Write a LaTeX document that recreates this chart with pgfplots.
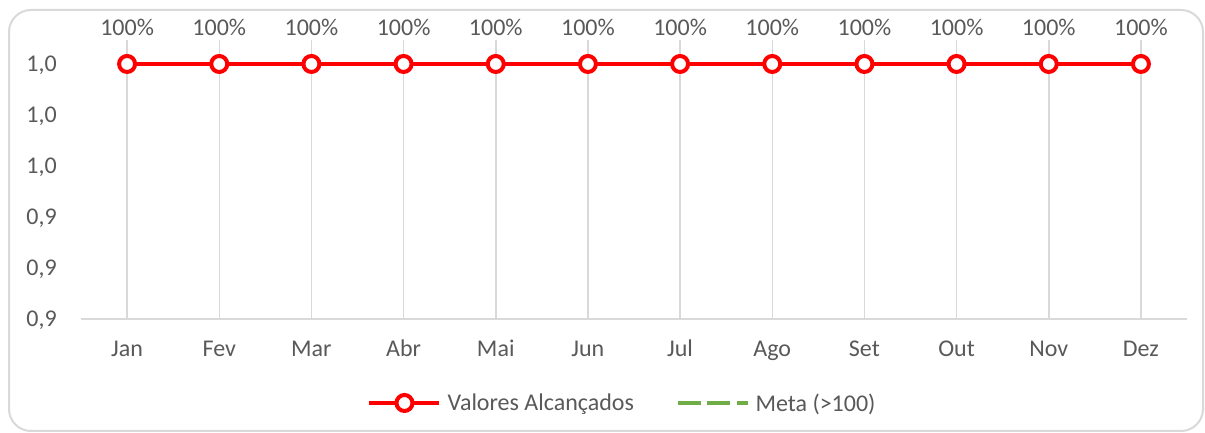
\documentclass[border=0pt]{standalone}
\usepackage{pgfplots}
\pgfplotsset{compat=1.18}
\usepackage{fontspec}
\setmainfont{Carlito}
\definecolor{txtgray}{HTML}{595959}
\definecolor{gridgray}{HTML}{D9D9D9}
\definecolor{metagreen}{HTML}{70AD47}
\definecolor{valred}{HTML}{FF0000}
\begin{document}
\begin{tikzpicture}[x=1pt,y=1pt]
\useasboundingbox (0,0) rectangle (1205,433);
\draw[gridgray, line width=2pt, rounded corners=22pt] (9,2) rectangle (1203,423);
\begin{axis}[
  at={(81pt,114pt)}, anchor=south west,
  scale only axis, width=1106pt, height=279pt,
  xmin=-0.5, xmax=11.5, ymin=0.9, ymax=1.0094,
  clip=false,
  axis line style={draw=none},
  tick style={draw=none},
  xtick={0,...,11},
  xticklabels={Jan,Fev,Mar,Abr,Mai,Jun,Jul,Ago,Set,Out,Nov,Dez},
  ytick={0.9,0.92,0.94,0.96,0.98,1.0},
  yticklabels={{0,9},{0,9},{0,9},{1,0},{1,0},{1,0}},
  xmajorgrids, major grid style={gridgray, line width=1.5pt},
  tick label style={font=\fontsize{24}{28}\selectfont, text=txtgray, inner sep=0pt},
  yticklabel style={anchor=base east, xshift=-24pt, yshift=-7.6pt},
  xticklabel style={anchor=base, yshift=-38pt},
  legend columns=2,
  legend style={at={(0.2586,-0.301)}, anchor=west, draw=none, fill=none, inner sep=0pt,
    font=\fontsize{24}{28}\selectfont, text=txtgray,
    nodes={inner sep=0pt},
    /tikz/every odd column/.append style={column sep=6pt},
    /tikz/every even column/.append style={column sep=42pt}},
  legend cell align=left,
  legend image code/.code={\draw[mark repeat=2,mark phase=2,#1] plot coordinates {(0pt,0pt) (35pt,0pt) (70pt,0pt)};},
]
\draw[gridgray, line width=1.5pt] (rel axis cs:0,0) -- (rel axis cs:1,0);
\addplot[valred, line width=4.5pt, mark=*, mark size=8pt,
  mark options={fill=white, draw=valred, line width=4pt, solid},
  nodes near coords={100\%},
  every node near coord/.append style={font=\fontsize{24}{28}\selectfont, text=txtgray, anchor=south, inner sep=0pt, yshift=26pt}]
  coordinates {(0,1.0) (1,1.0) (2,1.0) (3,1.0) (4,1.0) (5,1.0) (6,1.0) (7,1.0) (8,1.0) (9,1.0) (10,1.0) (11,1.0)};
\addlegendentry{Valores Alcançados}
\addlegendimage{metagreen, line width=3.5pt, dash pattern=on 23pt off 6.5pt}
\addlegendentry{Meta (>100)}
\end{axis}
\end{tikzpicture}
\end{document}
